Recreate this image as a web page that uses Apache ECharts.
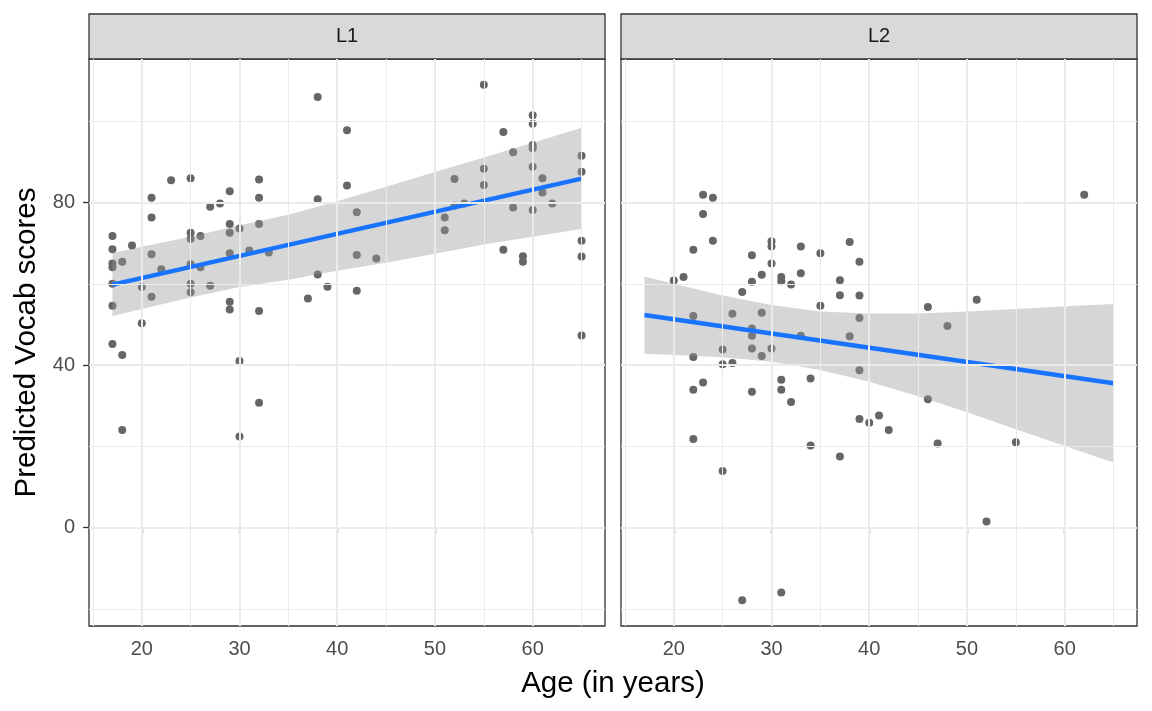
<!DOCTYPE html>
<html><head><meta charset="utf-8">
<script src="https://cdn.jsdelivr.net/npm/echarts@6/dist/echarts.min.js"></script>
<style>html,body{margin:0;padding:0;background:#fff}#c{width:1152px;height:711px}</style>
</head><body><div id="c"></div>
<script>
const panels = ['L1', 'L2'];
const l1Age = [38,41,23,25,32,29,21,32,38,41,27,28,21,29,32,30,29,25,25,26,17,17,19,17,17,18,21,22,25,26,29,31,33,17,20,25,25,27,21,38,39,37,29,29,32,17,20,17,18,30,32,18,30,
  55,60,60,57,60,60,58,65,55,60,65,52,61,55,61,62,53,52,58,60,51,51,42,42,44,42,57,59,59,65,65,65];
const l1Score = [106,97.8,85.5,86,85.7,82.8,81.2,81.2,80.8,84.2,79,79.8,76.3,74.7,74.7,73.6,72.6,72.6,71.1,71.8,71.8,68.5,69.4,65,64.1,65.4,67.3,63.6,64.8,64.1,67.5,68.2,67.7,60,59.2,60,57.9,59.5,56.8,62.3,59.3,56.4,55.6,53.7,53.3,54.6,50.3,45.2,42.5,41,30.7,24,22.4,
  109,101.5,99.4,97.4,94.2,93.4,92.4,91.5,88.3,88.8,87.6,85.8,86,84.3,82.5,79.8,79.8,79.3,78.8,78.2,76.3,73.2,77.6,67.1,66.2,58.3,68.4,66.8,65.4,70.6,66.7,47.3];
const l2Age = [23,24,23,24,22,30,30,30,28,33,35,38,39,20,21,28,29,31,31,32,33,37,27,37,39,35,39,38,22,26,29,28,28,33,25,28,30,29,22,25,26,39,31,34,23,22,28,31,32,39,40,41,22,34,37,25,27,31,62,51,46,48,46,42,47,55,52];
const l2Score = [81.9,81.2,77.2,70.6,68.4,70.5,69.2,65,67,69.2,67.5,70.3,65.4,60.8,61.7,60.5,62.2,61.7,60.6,59.8,62.6,60.9,58,57.2,57.1,54.6,51.6,47.1,52.1,52.6,52.9,49,47.2,47.2,43.8,44.1,44.1,42.2,42,40.2,40.5,38.7,36.4,36.7,35.7,33.9,33.4,33.9,30.9,26.7,25.8,27.6,21.8,20.2,17.5,13.9,-17.9,-16,81.9,56.1,54.3,49.6,31.6,24,20.7,21,1.5];

// fitted line (ends) and confidence band
const fitAge = [17, 65];
const l1Fit = [59.8, 85.9];
const l2Fit = [52.3, 35.5];
const bandAge = [17, 20, 25, 30, 35, 40, 45, 50, 55, 60, 65];
const l1Lower = [52.0, 53.8, 56.6, 59.2, 61.0, 63.2, 65.2, 67.4, 69.7, 71.6, 73.5];
const l1Upper = [67.6, 69.1, 71.6, 74.4, 77.0, 80.3, 83.9, 87.5, 91.1, 94.7, 98.4];
const l2Lower = [42.8, 42.5, 41.9, 40.8, 38.8, 35.9, 32.3, 28.4, 24.2, 20.1, 16.0];
const l2Upper = [61.8, 60.0, 57.1, 54.8, 53.2, 52.7, 52.7, 53.2, 53.8, 54.5, 55.0];

const xTicks = [20, 30, 40, 50, 60];
const xMinor = [15, 25, 35, 45, 55, 65];
const yTicks = [0, 40, 80];
const yMinor = [-20, 20, 60, 100];
const xTitle = 'Age (in years)';
const yTitle = 'Predicted Vocab scores';

const FONT = '"Liberation Sans", Arial, Helvetica, sans-serif';
const allX = l1Age.concat(l2Age), allY = l1Score.concat(l2Score);
const xLo = Math.min(...allX), xHi = Math.max(...allX);
const yLo = Math.min(...allY), yHi = Math.max(...allY);
const xMin = xLo - 0.05 * (xHi - xLo), xMax = xHi + 0.05 * (xHi - xLo);
const yMin = yLo - 0.05 * (yHi - yLo), yMax = yHi + 0.05 * (yHi - yLo);

const pts = [l1Age.map((a, i) => [a, l1Score[i]]), l2Age.map((a, i) => [a, l2Score[i]])];
const lines = [fitAge.map((a, i) => [a, l1Fit[i]]), fitAge.map((a, i) => [a, l2Fit[i]])];
const bands = [bandAge.map((a, i) => [a, l1Lower[i], l1Upper[i]]), bandAge.map((a, i) => [a, l2Lower[i], l2Upper[i]])];

const gridLefts = [89, 621];
const gridW = 516, gridTop = 59, gridH = 567;

const grids = [], xAxes = [], yAxes = [], series = [], graphics = [];
panels.forEach((name, p) => {
  grids.push({left: gridLefts[p], top: gridTop, width: gridW, height: gridH, show: true,
    borderColor: '#333333', borderWidth: 1.3, backgroundColor: '#ffffff', containLabel: false});
  xAxes.push({type: 'value', gridIndex: p, min: xMin, max: xMax,
    splitLine: {show: false}, axisLine: {show: false},
    axisTick: {show: true, customValues: xTicks, length: 6, lineStyle: {color: '#333333', width: 1.3}},
    axisLabel: {customValues: xTicks, color: '#4D4D4D', fontSize: 20, fontFamily: FONT, margin: 13}});
  yAxes.push({type: 'value', gridIndex: p, min: yMin, max: yMax,
    splitLine: {show: false}, axisLine: {show: false},
    axisTick: {show: p === 0, customValues: yTicks, length: 6, lineStyle: {color: '#333333', width: 1.3}},
    axisLabel: {show: p === 0, customValues: yTicks, color: '#4D4D4D', fontSize: 20, fontFamily: FONT, margin: 14}});
  const ml = [];
  yMinor.forEach(v => ml.push({yAxis: v, lineStyle: {width: 1}}));
  xMinor.forEach(v => ml.push({xAxis: v, lineStyle: {width: 1}}));
  yTicks.forEach(v => ml.push({yAxis: v, lineStyle: {width: 2}}));
  xTicks.forEach(v => ml.push({xAxis: v, lineStyle: {width: 2}}));
  series.push({type: 'scatter', xAxisIndex: p, yAxisIndex: p, data: [[40, 0]], symbolSize: 0,
    itemStyle: {opacity: 0}, silent: true, z: 1,
    markLine: {silent: true, symbol: 'none', label: {show: false}, animation: false,
      lineStyle: {color: '#EBEBEB', type: 'solid'}, data: ml}});
  series.push({type: 'scatter', xAxisIndex: p, yAxisIndex: p, data: pts[p], symbolSize: 8,
    itemStyle: {color: '#666666', opacity: 1}, z: 2, animation: false});
  const band = bands[p];
  series.push({type: 'custom', xAxisIndex: p, yAxisIndex: p, data: band, z: 3, silent: true,
    encode: {x: 0, y: 1},
    renderItem: function (params, api) {
      if (params.dataIndex !== 0) return null;
      const poly = [];
      for (let i = 0; i < band.length; i++) poly.push(api.coord([band[i][0], band[i][2]]));
      for (let i = band.length - 1; i >= 0; i--) poly.push(api.coord([band[i][0], band[i][1]]));
      return {type: 'polygon', shape: {points: poly}, style: {fill: 'rgba(153,153,153,0.4)'}};
    }, animation: false});
  series.push({type: 'line', xAxisIndex: p, yAxisIndex: p, data: lines[p], showSymbol: false,
    lineStyle: {color: '#1874FF', width: 4.5}, z: 4, silent: true, animation: false});
  graphics.push({type: 'rect', shape: {x: gridLefts[p], y: 14, width: gridW, height: 45},
    style: {fill: '#D9D9D9', stroke: '#333333', lineWidth: 1.3}});
  graphics.push({type: 'text', x: gridLefts[p] + gridW / 2, y: 36.5,
    style: {text: name, fill: '#1A1A1A', font: '20px ' + FONT, textAlign: 'center', textVerticalAlign: 'middle'}});
});
graphics.push({type: 'text', x: 613, y: 684,
  style: {text: xTitle, fill: '#000000', font: '29.5px ' + FONT, textAlign: 'center', textVerticalAlign: 'middle'}});
graphics.push({type: 'text', x: 27, y: 342.5, rotation: Math.PI / 2,
  style: {text: yTitle, fill: '#000000', font: '29.5px ' + FONT, textAlign: 'center', textVerticalAlign: 'middle'}});

const chart = echarts.init(document.getElementById('c'), null, {renderer: 'canvas'});
chart.setOption({animation: false, backgroundColor: '#ffffff', grid: grids, xAxis: xAxes, yAxis: yAxes,
  series: series, graphic: graphics});
</script></body></html>
